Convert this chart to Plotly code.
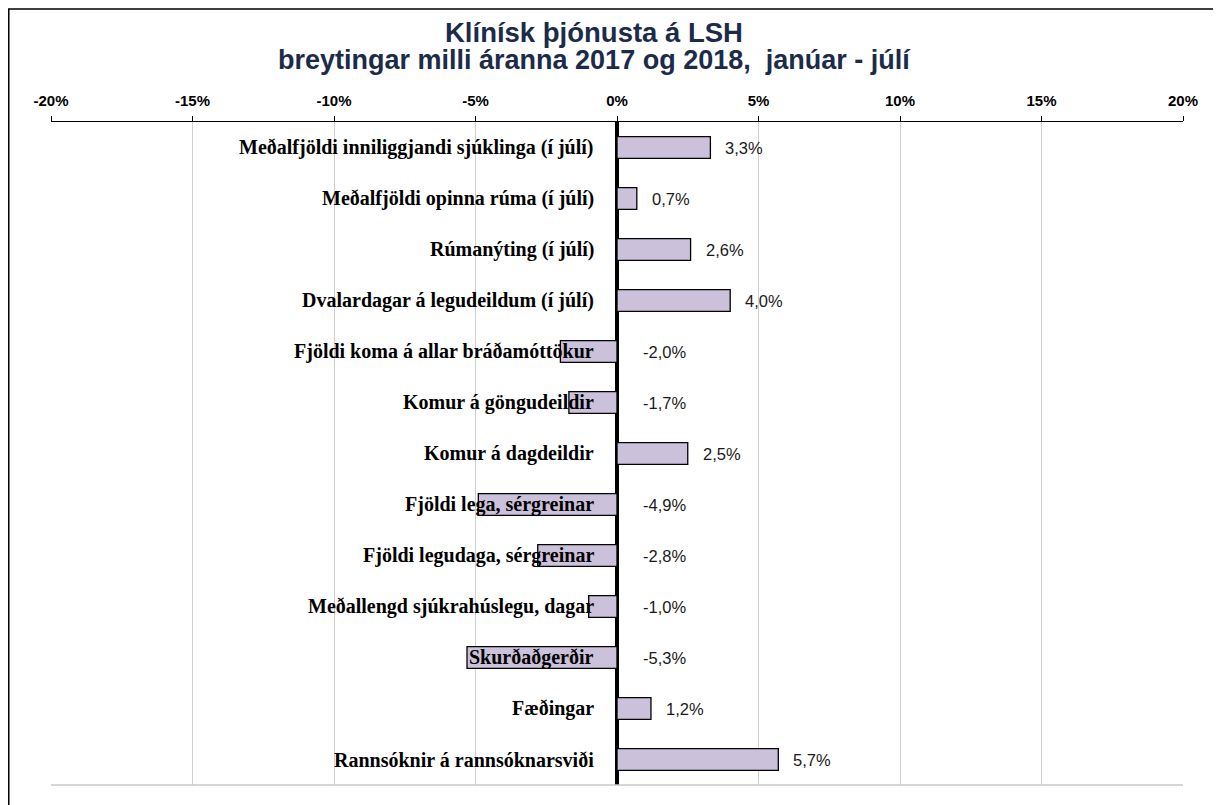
import plotly.graph_objects as go

categories = [
    "Meðalfjöldi inniliggjandi sjúklinga (í júlí)",
    "Meðalfjöldi opinna rúma (í júlí)",
    "Rúmanýting (í júlí)",
    "Dvalardagar á legudeildum (í júlí)",
    "Fjöldi koma á allar bráðamóttökur",
    "Komur á göngudeildir",
    "Komur á dagdeildir",
    "Fjöldi lega, sérgreinar",
    "Fjöldi legudaga, sérgreinar",
    "Meðallengd sjúkrahúslegu, dagar",
    "Skurðaðgerðir",
    "Fæðingar",
    "Rannsóknir á rannsóknarsviði",
]
values = [3.3, 0.7, 2.6, 4.0, -2.0, -1.7, 2.5, -4.9, -2.8, -1.0, -5.3, 1.2, 5.7]
tick_vals = [-20, -15, -10, -5, 0, 5, 10, 15, 20]
tick_text = ["-20%", "-15%", "-10%", "-5%", "0%", "5%", "10%", "15%", "20%"]

title_line1 = "Klínísk þjónusta á LSH"
title_line2 = "breytingar milli áranna 2017 og 2018, \u00a0janúar - júlí"

fig = go.Figure()
fig.add_trace(go.Bar(
    x=values, y=categories, orientation="h",
    marker=dict(color="#CCC1DA", line=dict(color="#000000", width=1.3)),
    width=0.43, hoverinfo="skip",
))

# category labels next to the zero line
for c in categories:
    fig.add_annotation(
        x=0, y=c, xref="x", yref="y", text=c, showarrow=False,
        xanchor="right", xshift=-21,
        font=dict(family="Liberation Serif", size=20, color="#000000", weight="bold"),
    )

# value labels
for c, v in zip(categories, values):
    lbl = f"{v:.1f}%".replace(".", ",")
    fig.add_annotation(
        x=max(v, 0), y=c, xref="x", yref="y", text=lbl, showarrow=False,
        xanchor="left", xshift=13 if v > 0 else 24,
        font=dict(family="Liberation Sans", size=16.5, color="#1a1a1a"),
    )

# title lines
fig.add_annotation(x=0.4797, y=1.1357, xref="paper", yref="paper", text=title_line1,
                   showarrow=False, xanchor="center", yanchor="middle",
                   font=dict(family="Liberation Sans", size=27.5, color="#1C2B4A", weight="bold"))
fig.add_annotation(x=0.4797, y=1.0935, xref="paper", yref="paper", text=title_line2,
                   showarrow=False, xanchor="center", yanchor="middle",
                   font=dict(family="Liberation Sans", size=27, color="#1C2B4A", weight="bold"))

# outer chart border
fig.add_shape(type="rect", xref="paper", yref="paper",
              x0=-0.0373, x1=1.2, y0=-0.2, y1=1.1704,
              line=dict(color="#000000", width=1.5), fillcolor="rgba(0,0,0,0)")
# bottom edge of plot area
fig.add_shape(type="line", xref="paper", yref="paper", x0=0, x1=1, y0=0, y1=0,
              line=dict(color="#C8C8C8", width=1.5))

fig.update_layout(
    width=1221, height=805,
    margin=dict(l=43, r=46, t=114, b=28),
    paper_bgcolor="white", plot_bgcolor="white",
    showlegend=False,
    xaxis=dict(
        side="top", range=[-20, 20], tickvals=tick_vals, ticktext=tick_text,
        showline=True, linecolor="#000000", linewidth=1.3,
        ticks="outside", ticklen=5, tickcolor="#000000", tickwidth=1.3,
        ticklabelstandoff=4,
        showgrid=True, gridcolor="#D0D0D0", gridwidth=1,
        zeroline=True, zerolinecolor="#000000", zerolinewidth=3.5,
        tickfont=dict(family="Liberation Sans", size=15, color="#000000", weight="bold"),
        fixedrange=True,
    ),
    yaxis=dict(
        autorange="reversed", showticklabels=False, showgrid=False, zeroline=False,
        showline=False, ticks="", fixedrange=True,
    ),
)

fig.write_html("out.html", config={"displayModeBar": False})
